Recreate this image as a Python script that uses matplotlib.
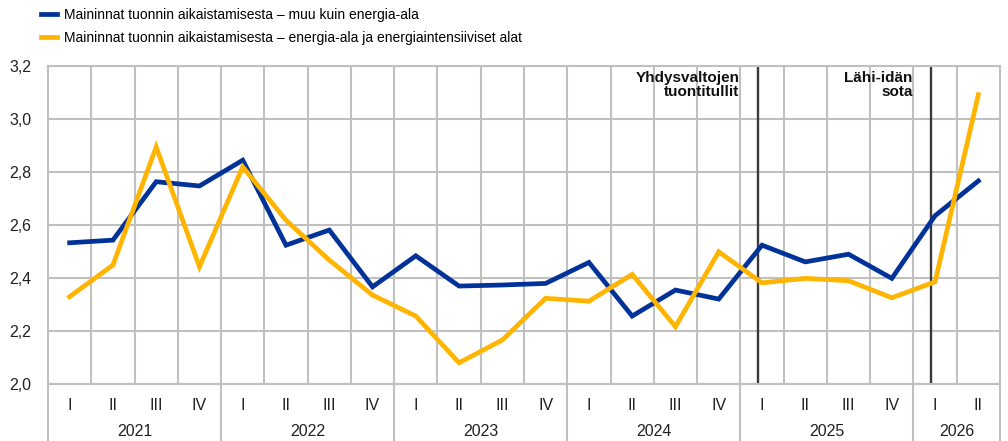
#!/usr/bin/env python3
'''
Mentions of front-loading imports, by sector, quarterly 2021-2026.
'''
import matplotlib.pyplot as plt
from matplotlib.transforms import blended_transform_factory

plt.rcParams['font.family'] = ['Liberation Sans', 'DejaVu Sans']

years = ["2021", "2022", "2023", "2024", "2025", "2026"]
quarters_per_year = [4, 4, 4, 4, 4, 2]
quarter_names = ["I", "II", "III", "IV"]

series_names = [
    "Maininnat tuonnin aikaistamisesta \u2013 muu kuin energia-ala",
    "Maininnat tuonnin aikaistamisesta \u2013 energia-ala ja energiaintensiiviset alat",
]
other_sectors = [2.533, 2.543, 2.763, 2.747, 2.844, 2.524, 2.581, 2.367,
                 2.484, 2.370, 2.374, 2.380, 2.459, 2.257, 2.355, 2.321,
                 2.524, 2.461, 2.490, 2.399, 2.635, 2.766]
energy_sectors = [2.330, 2.449, 2.894, 2.443, 2.819, 2.618, 2.468, 2.336,
                  2.257, 2.081, 2.167, 2.324, 2.313, 2.414, 2.217, 2.499,
                  2.382, 2.399, 2.390, 2.326, 2.386, 3.091]

events = ["Yhdysvaltojen\ntuontitullit", "L\u00e4hi-id\u00e4n\nsota"]
event_quarters = [("2025", "I"), ("2026", "I")]

colors = ["#003299", "#FFB400"]
grid_col = "#c0c0c0"

# quarter index positions
labels = []
for y, n in zip(years, quarters_per_year):
    for q in quarter_names[:n]:
        labels.append((y, q))
xs = list(range(len(labels)))

W, H = 1008, 441
fig = plt.figure(figsize=(W / 100, H / 100), dpi=100)
left, right, top, bottom = 48, 1000, 65.7, 384.3
ax = fig.add_axes([left / W, 1 - bottom / H, (right - left) / W, (bottom - top) / H])

ax.set_xlim(-0.5, len(xs) - 0.5)
ax.set_ylim(2.0, 3.2)
ax.set_yticks([2.0, 2.2, 2.4, 2.6, 2.8, 3.0, 3.2])
ax.set_yticklabels([f"{v:.1f}".replace(".", ",") for v in ax.get_yticks()],
                   fontsize=11.5, color="#222222")
ax.set_xticks([])
ax.set_xticks([x + 0.5 for x in xs[:-1]], minor=True)
ax.tick_params(axis="both", which="both", length=0)
ax.tick_params(axis="y", pad=12)
ax.grid(True, which="major", axis="y", color=grid_col, lw=1.5)
ax.grid(True, which="minor", axis="x", color=grid_col, lw=1.5)
ax.set_axisbelow(True)
for s in ax.spines.values():
    s.set_color(grid_col)
    s.set_linewidth(1.5)

lines = []
for vals, c, name in zip([other_sectors, energy_sectors], colors, series_names):
    ln, = ax.plot(xs, vals, color=c, lw=3.4, label=name,
                  solid_joinstyle="miter", zorder=3)
    lines.append(ln)

# event markers
for text, (ey, eq) in zip(events, event_quarters):
    xi = labels.index((ey, eq)) - 0.1
    ax.axvline(xi, color="#3a3a3a", lw=1.7, zorder=2)
    ax.annotate(text, xy=(xi, 1.0), xycoords=("data", "axes fraction"),
                xytext=(-13, -4), textcoords="offset points",
                ha="right", va="top", fontsize=11, fontweight="bold",
                linespacing=0.95, color="#111111")

# category axis: quarters and years
tr = blended_transform_factory(ax.transData, ax.transAxes)
ph = bottom - top
q_y = -(405 - bottom) / ph
y_y = -(432 - bottom) / ph
for x, (y, q) in zip(xs, labels):
    ax.text(x, q_y, q, transform=tr, ha="center", va="center",
            fontsize=11.5, color="#222222")
start = 0
for y, n in zip(years, quarters_per_year):
    ax.text(start + (n - 1) / 2, y_y, y, transform=tr, ha="center",
            va="center", fontsize=11.5, color="#222222")
    start += n
bounds = [-0.5]
for n in quarters_per_year:
    bounds.append(bounds[-1] + n)
for b in bounds:
    ax.plot([b, b], [0, -(H - bottom) / ph], transform=tr, color=grid_col,
            lw=1.5, clip_on=False)

fig.legend(handles=lines, loc="upper left", bbox_to_anchor=(33 / W, 1.0),
           frameon=False, fontsize=10, handlelength=1.1, handletextpad=0.55,
           labelspacing=0.6, borderaxespad=0.2)

fig.savefig("out.png", dpi=100)
